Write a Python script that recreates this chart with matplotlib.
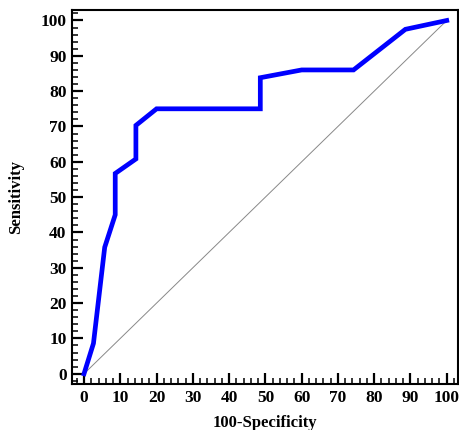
import matplotlib
matplotlib.use("Agg")
import matplotlib.pyplot as plt
from matplotlib.ticker import MultipleLocator

# ROC curve points (100-Specificity, Sensitivity)
fpr = [0, 2.6, 5.7, 8.6, 8.6, 14.3, 14.3, 20, 48.6, 48.6, 60, 74.3, 88.6, 100]
tpr = [0, 8.6, 35.8, 45, 56.7, 60.8, 70.3, 75, 75, 83.8, 86, 86, 97.5, 100]
ref = [0, 100]

plt.rcParams['font.family'] = ['Liberation Serif', 'DejaVu Serif']

fig = plt.figure(figsize=(4.59, 4.30), dpi=100)
ax = fig.add_axes([0.157, 0.107, 0.840, 0.870])

ax.plot(ref, ref, color='#888888', lw=0.7)
ax.plot(fpr, tpr, color='#0000ff', lw=3.4, solid_joinstyle='miter')

ax.set_xlim(-3.3, 103)
ax.set_ylim(-2.9, 103)
ax.xaxis.set_major_locator(MultipleLocator(10))
ax.yaxis.set_major_locator(MultipleLocator(10))
ax.xaxis.set_minor_locator(MultipleLocator(2))
ax.yaxis.set_minor_locator(MultipleLocator(2))
ax.tick_params(which='both', direction='in', colors='black')
ax.tick_params(which='major', length=8, width=1.6, labelsize=12.5, pad=4)
ax.tick_params(which='minor', length=4.5, width=1.1)
ax.tick_params(axis='x', which='both', top=False)
ax.tick_params(axis='y', which='both', right=False)
for lab in ax.get_xticklabels() + ax.get_yticklabels():
    lab.set_fontweight('bold')

for s in ax.spines.values():
    s.set_linewidth(1.5)

ax.set_xlabel('100-Specificity', fontsize=12, fontweight='bold', labelpad=7)
ax.set_ylabel('Sensitivity', fontsize=12, fontweight='bold', labelpad=12)

fig.savefig('out.png', dpi=100)
